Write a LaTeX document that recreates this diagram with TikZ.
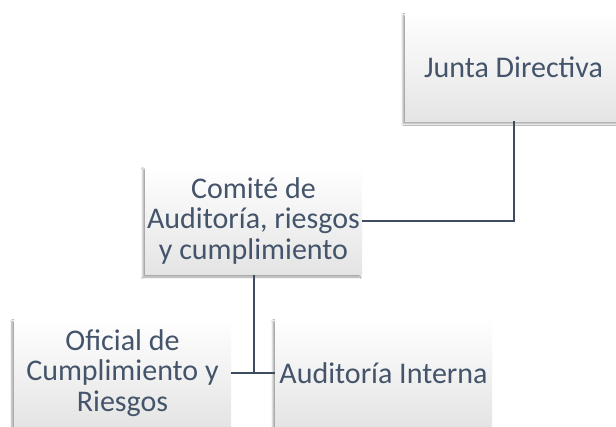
\documentclass[tikz,border=0pt]{standalone}
\usepackage{fontspec}
\setmainfont{Carlito}
\usetikzlibrary{shadows.blur}
\definecolor{txt}{HTML}{44546A}
\definecolor{ln}{HTML}{3E4C60}
\definecolor{boxbot}{HTML}{E4E4E4}
\tikzset{
  box/.style={draw=none, top color=white, middle color=white, bottom color=boxbot,
    minimum width=217pt, minimum height=108pt, inner sep=0pt, align=center,
    text=txt, font=\fontsize{30}{30.5}\selectfont,
    blur shadow={shadow xshift=-2pt, shadow yshift=-2.5pt, shadow blur steps=6, shadow opacity=38}},
  conn/.style={draw=ln, line width=2pt}
}
\begin{document}
\begin{tikzpicture}[x=1pt,y=1pt]
\useasboundingbox (0,0) rectangle (616,-426);
\clip (0,0) rectangle (616,-426);
\fill[white] (0,0) rectangle (616,-426);
\node[box] (J) at (513.5,-67) {Junta Directiva};
\node[box] (C) at (253.5,-220.5) {Comité de\\Auditoría, riesgos\\y cumplimiento};
\node[box] (O) at (122.5,-373) {Oficial de\\Cumplimiento y\\Riesgos};
\node[box] (A) at (383.5,-373) {Auditoría Interna};
\draw[conn] (J.south) |- (C.east);
\draw[conn] (C.south) -- (C.south |- O.east);
\draw[conn] (O.east) -- (A.west);
\end{tikzpicture}
\end{document}
